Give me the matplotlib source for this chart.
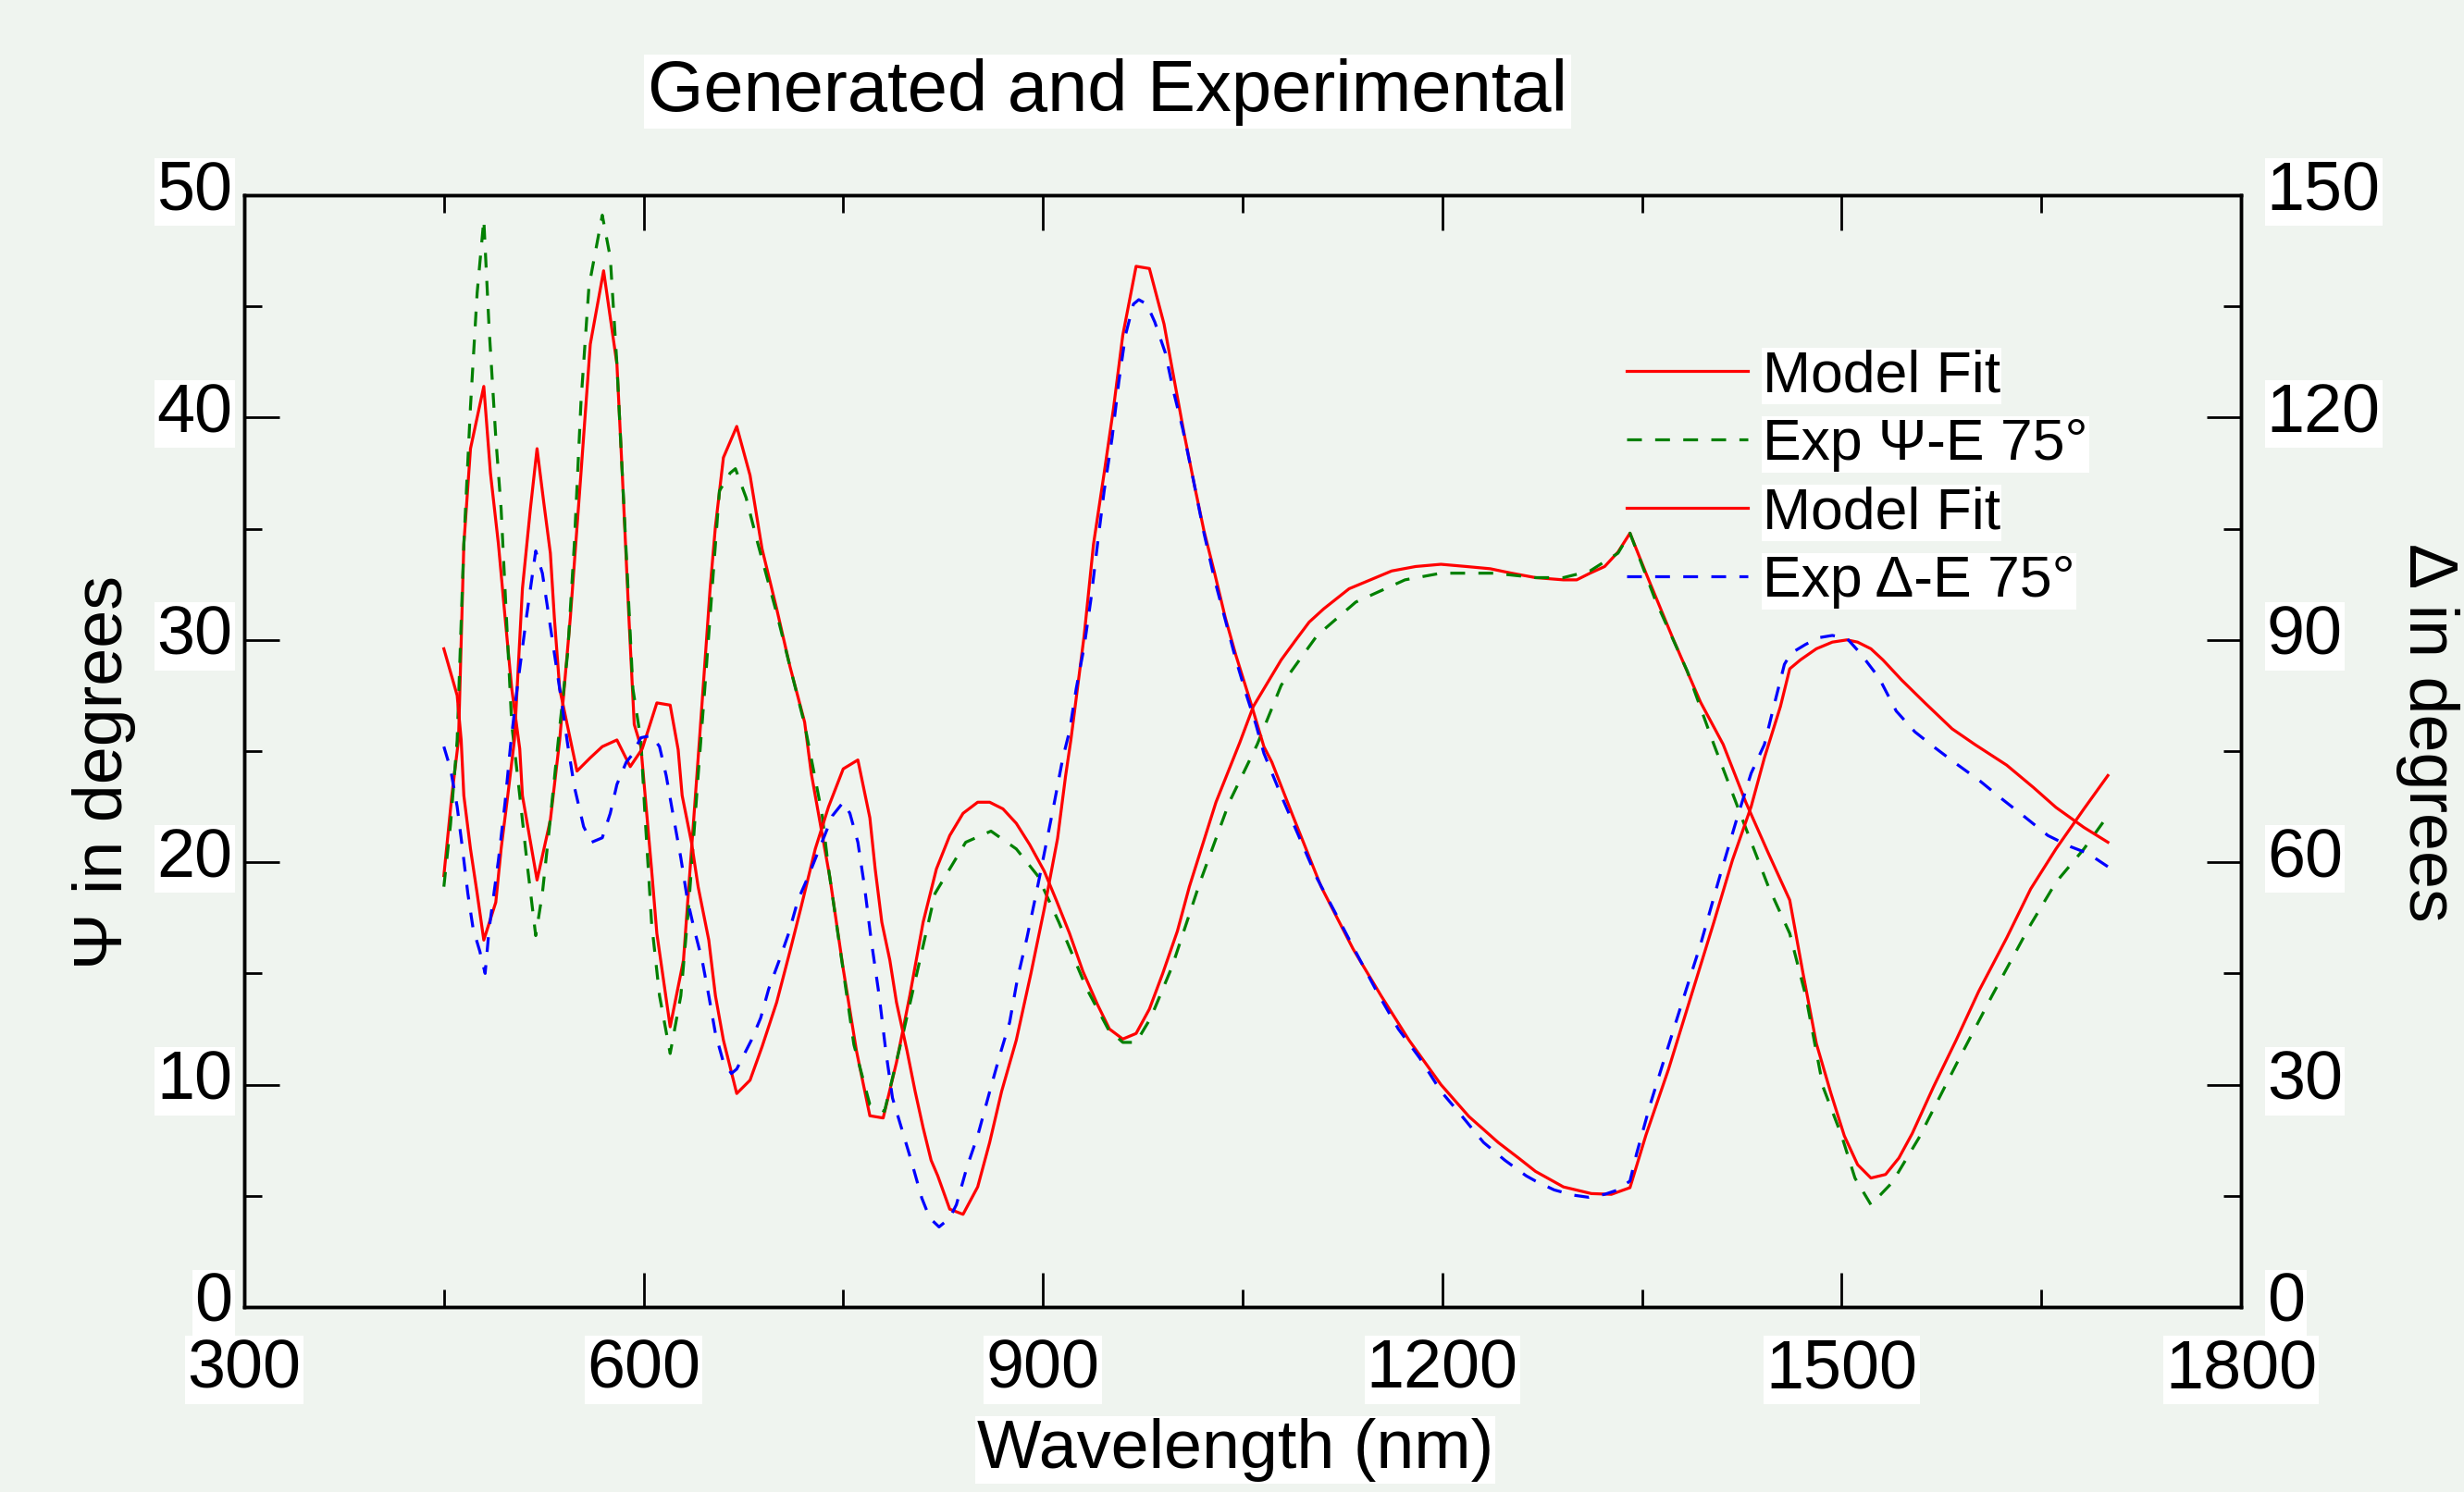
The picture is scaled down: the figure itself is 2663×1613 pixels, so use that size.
import matplotlib
matplotlib.use('Agg')
import matplotlib.pyplot as plt
from matplotlib.ticker import MultipleLocator
from matplotlib.transforms import ScaledTranslation
from matplotlib import font_manager

# Psi (left axis, degrees)
wl_psi_fit = [450, 456, 461, 465, 470, 480, 485, 491, 496, 501, 507, 509, 520, 530, 537, 545, 553,
              560, 570, 580, 584, 589, 593, 598, 606, 610, 620, 630, 642, 650, 654, 660, 670, 680,
              689, 700, 710, 721, 726, 740, 750, 760, 770, 780, 790, 800, 810, 820, 830, 840, 851,
              860, 870, 880, 890, 901, 910, 920, 930, 941, 950, 960, 970, 980, 990, 1001, 1010,
              1020, 1030, 1040, 1048, 1058, 1069, 1079, 1090, 1100, 1111, 1130, 1146, 1162, 1180,
              1199, 1218, 1236, 1252, 1270, 1291, 1301, 1311, 1322, 1332, 1341, 1353, 1373, 1394,
              1411, 1428, 1445, 1461, 1471, 1481, 1492, 1502, 1512, 1522, 1533, 1543, 1553, 1569,
              1586, 1603, 1624, 1642, 1661, 1682, 1700]
psi_fit = [19.4, 23.0, 25.5, 34.3, 38.6, 41.4, 37.5, 34.3, 31.0, 27.8, 25.1, 23.0, 19.2, 21.9, 25.5,
           31.0, 37.5, 43.3, 46.6, 42.4, 37.5, 31.0, 26.2, 25.2, 19.7, 16.8, 12.6, 15.6, 25.5, 32.3,
           35.1, 38.2, 39.6, 37.4, 34.1, 31.4, 28.8, 26.3, 24.0, 19.3, 15.2, 11.5, 8.6, 8.5, 11.0,
           14.0, 17.3, 19.7, 21.2, 22.2, 22.7, 22.7, 22.4, 21.75, 20.8, 19.6, 18.3, 16.8, 15.1,
           13.6, 12.5, 12.05, 12.3, 13.4, 15.0, 16.9, 18.9, 20.8, 22.7, 24.2, 25.4, 27.0, 28.1,
           29.1, 30.0, 30.8, 31.4, 32.3, 32.7, 33.1, 33.3, 33.4, 33.3, 33.2, 33.0, 32.8, 32.7, 32.7,
           33.0, 33.3, 33.95, 34.8, 33.0, 30.1, 27.2, 25.3, 22.7, 20.4, 18.3, 15.0, 11.85, 9.6,
           7.7, 6.4, 5.8, 5.96, 6.7, 7.8, 9.9, 12.0, 14.2, 16.6, 18.8, 20.6, 22.4, 23.9]

wl_psi_exp = [450, 455, 460, 465, 470, 475, 480, 484, 489, 493, 497, 501, 507, 513, 519, 524, 529,
              536, 543, 548, 553, 559, 564, 569, 575, 580, 584, 588, 592, 598, 601, 606, 612, 620,
              628, 634, 641, 646, 652, 657, 665, 669, 677, 686, 700, 710, 721, 734, 739, 758, 770,
              781, 795, 819, 842, 861, 880, 896, 912, 933, 949, 960, 970, 981, 997, 1018, 1040,
              1061, 1079, 1106, 1135, 1172, 1199, 1239, 1270, 1291, 1311, 1332, 1341, 1360, 1384,
              1404, 1425, 1445, 1461, 1473, 1486, 1500, 1510, 1522, 1538, 1558, 1586, 1613, 1641,
              1661, 1682, 1700]
psi_exp = [18.9, 21.7, 25.5, 34.3, 40.5, 45.6, 48.9, 44.0, 39.1, 35.9, 31.0, 26.2, 23.0, 19.7, 16.7,
           18.6, 21.4, 25.5, 29.4, 34.3, 40.7, 45.9, 47.5, 49.1, 47.2, 42.4, 37.5, 32.7, 27.8, 25.5,
           22.2, 17.3, 14.0, 11.4, 14.0, 18.1, 23.9, 27.8, 32.7, 36.7, 37.5, 37.7, 36.4, 34.3, 31.2,
           28.8, 26.2, 22.2, 19.7, 11.8, 9.1, 8.8, 12.3, 18.6, 20.9, 21.4, 20.6, 19.4, 17.3, 14.3,
           12.5, 11.9, 11.9, 13.0, 15.3, 19.1, 22.7, 25.3, 27.96, 30.2, 31.7, 32.7, 33.0, 33.0, 32.8,
           32.8, 33.1, 33.9, 34.8, 31.8, 28.6, 25.3, 22.0, 18.9, 16.8, 14.0, 9.9, 7.7, 5.8, 4.6, 5.6,
           7.6, 10.9, 14.0, 17.1, 19.1, 20.6, 22.1]

# Delta (right axis, degrees)
wl_del_fit = [450, 460, 463, 465, 470, 475, 480, 489, 493, 498, 503, 509, 515, 520, 525, 530, 533,
              537, 550, 560, 569, 580, 590, 599, 610, 620, 626, 629, 636, 641, 649, 654, 660, 670,
              680, 689, 700, 710, 718, 729, 739, 750, 761, 770, 774, 779, 785, 790, 798, 804, 810,
              816, 821, 830, 840, 851, 860, 869, 880, 891, 901, 911, 917, 921, 924, 931, 938, 946,
              953, 960, 970, 980, 991, 998, 1006, 1014, 1021, 1029, 1037, 1045, 1056, 1066, 1072,
              1087, 1109, 1133, 1154, 1175, 1199, 1220, 1242, 1258, 1270, 1291, 1312, 1327, 1341,
              1353, 1370, 1387, 1404, 1418, 1432, 1442, 1454, 1461, 1469, 1481, 1493, 1504, 1512,
              1522, 1531, 1545, 1562, 1583, 1600, 1624, 1644, 1661, 1682, 1700]
del_fit = [88.8, 82.5, 76.5, 69.0, 61.8, 55.8, 49.5, 54.6, 61.8, 69.0, 76.5, 96.9, 107.7, 115.8,
           108.6, 101.7, 93.0, 83.4, 72.3, 74.1, 75.6, 76.5, 72.9, 75.3, 81.5, 81.2, 75.2, 69.0,
           62.7, 56.7, 49.5, 42.0, 36.0, 28.8, 30.6, 35.1, 41.1, 48.0, 53.7, 61.8, 67.5, 72.6,
           73.8, 66.0, 59.1, 51.9, 46.8, 41.1, 34.5, 29.1, 24.2, 19.8, 17.7, 13.2, 12.5, 16.2,
           22.2, 29.1, 36.0, 45.0, 53.7, 63.2, 71.6, 76.5, 80.7, 90.6, 102.9, 112.5, 121.2, 131.1,
           140.4, 140.1, 132.6, 125.7, 117.9, 110.7, 104.7, 99.0, 93.0, 87.9, 81.6, 75.6, 73.5,
           66.6, 56.7, 48.3, 42.0, 36.0, 30.0, 25.7, 22.2, 20.0, 18.3, 16.2, 15.3, 15.2, 16.1,
           23.2, 32.1, 42.0, 51.9, 60.3, 67.5, 74.1, 81.0, 86.1, 87.3, 88.8, 89.7, 90.0, 89.7,
           88.8, 87.3, 84.6, 81.6, 78.0, 75.9, 73.1, 70.1, 67.4, 64.7, 62.7]

wl_del_exp = [450, 455, 460, 464, 468, 472, 477, 481, 484, 491, 496, 500, 505, 512, 516, 519, 524,
              529, 535, 539, 543, 548, 555, 561, 569, 575, 580, 587, 591, 598, 606, 612, 617, 622,
              628, 633, 638, 644, 649, 654, 660, 666, 670, 681, 688, 694, 702, 709, 716, 724, 732,
              742, 750, 755, 761, 766, 771, 777, 782, 787, 793, 801, 809, 815, 822, 830, 835, 843,
              851, 861, 868, 875, 881, 888, 895, 901, 908, 915, 920, 925, 931, 936, 941, 946, 952,
              957, 962, 968, 972, 978, 984, 992, 998, 1005, 1013, 1021, 1029, 1037, 1045, 1053,
              1060, 1066, 1079, 1093, 1106, 1119, 1135, 1151, 1167, 1183, 1199, 1215, 1231, 1247,
              1263, 1270, 1284, 1298, 1310, 1322, 1332, 1341, 1346, 1356, 1366, 1380, 1394, 1408,
              1421, 1432, 1442, 1449, 1457, 1462, 1473, 1483, 1493, 1504, 1514, 1528, 1541, 1555,
              1569, 1586, 1603, 1620, 1637, 1655, 1672, 1685, 1700]
del_exp = [75.6, 72.6, 67.5, 61.8, 55.8, 51.0, 48.0, 45.0, 51.0, 60.3, 68.1, 75.6, 83.4, 93.0, 98.1,
           102.0, 99.0, 93.0, 85.8, 81.0, 75.9, 70.2, 64.8, 62.7, 63.3, 66.6, 70.5, 73.5, 74.4,
           76.8, 77.1, 75.6, 71.7, 66.6, 60.6, 54.9, 51.0, 46.8, 42.0, 36.9, 33.0, 31.5, 32.1,
           36.0, 39.0, 42.9, 46.8, 50.4, 54.9, 58.2, 61.8, 66.3, 68.1, 66.6, 62.7, 56.7, 49.5,
           42.0, 34.5, 28.2, 24.6, 19.8, 14.7, 12.0, 10.8, 12.0, 13.8, 18.9, 23.1, 29.7, 34.2,
           38.4, 44.4, 49.8, 55.8, 61.2, 67.5, 74.1, 77.7, 83.4, 89.1, 95.4, 102.9, 110.1, 117.3,
           124.8, 131.1, 135.3, 135.9, 135.3, 132.9, 128.7, 123.6, 118.5, 111.6, 104.4, 98.1,
           92.7, 87.3, 82.5, 78.6, 74.7, 69.0, 63.2, 57.8, 53.4, 47.9, 42.5, 37.5, 33.6, 29.1,
           25.7, 22.2, 19.8, 17.7, 17.0, 15.8, 15.1, 14.8, 15.2, 15.8, 17.0, 20.7, 27.2, 33.0,
           41.0, 48.9, 57.8, 65.7, 72.0, 75.9, 81.0, 86.7, 88.2, 89.4, 90.3, 90.6, 90.2, 88.2,
           84.9, 80.4, 77.6, 75.6, 73.3, 71.1, 68.6, 66.2, 63.6, 62.1, 61.2, 59.4]

legend_labels = ['Model Fit', 'Exp \u03a8-E 75\u00b0', 'Model Fit', 'Exp \u0394-E 75\u00b0']

bg = '#eff4ef'
plt.rcParams['font.family'] = ['Liberation Sans', 'DejaVu Sans']

names = {f.name for f in font_manager.fontManager.ttflist}
if 'Liberation Sans Narrow' in names:
    title_family, title_size = ['Liberation Sans Narrow', 'DejaVu Sans'], 66
else:
    title_family, title_size = ['Liberation Sans', 'DejaVu Sans'], 56

fig = plt.figure(figsize=(26.63, 16.13), dpi=100, facecolor=bg)
ax1 = fig.add_axes([0.0991, 0.124, 0.8104, 0.7452])
ax1.set_facecolor(bg)
ax2 = ax1.twinx()

lw = 2.3
dash = (5, 4.5)
l1, = ax1.plot(wl_psi_fit, psi_fit, color='#ff0000', lw=lw)
l2, = ax1.plot(wl_psi_exp, psi_exp, color='#008000', lw=lw, ls=(0, dash))
l3, = ax2.plot(wl_del_fit, del_fit, color='#ff0000', lw=lw)
l4, = ax2.plot(wl_del_exp, del_exp, color='#0000ff', lw=lw, ls=(0, dash))

ax1.set_xlim(300, 1800)
ax1.set_ylim(0, 50)
ax2.set_ylim(0, 150)
ax1.xaxis.set_major_locator(MultipleLocator(300))
ax1.xaxis.set_minor_locator(MultipleLocator(150))
ax1.yaxis.set_major_locator(MultipleLocator(10))
ax1.yaxis.set_minor_locator(MultipleLocator(5))
ax2.yaxis.set_major_locator(MultipleLocator(30))
ax2.yaxis.set_minor_locator(MultipleLocator(15))

ax1.tick_params(axis='x', which='both', direction='in', top=True, bottom=True, width=2.0,
                labelsize=53, pad=24)
ax1.tick_params(axis='y', which='both', direction='in', left=True, right=False, width=2.0,
                labelsize=53, pad=9)
ax2.tick_params(axis='y', which='both', direction='in', right=True, left=False, width=2.0,
                labelsize=53, pad=20)
for a in (ax1, ax2):
    a.tick_params(which='major', length=27)
    a.tick_params(which='minor', length=13.5)
    for sp in a.spines.values():
        sp.set_linewidth(2.5)

white = dict(facecolor='white', edgecolor='none', pad=1.5)
lift = ScaledTranslation(0, 8 / 72, fig.dpi_scale_trans)
for lab in ax1.get_xticklabels():
    lab.set_bbox(white)
for lab in ax1.get_yticklabels() + ax2.get_yticklabels():
    lab.set_bbox(white)
    lab.set_transform(lab.get_transform() + lift)

ax1.set_xlabel('Wavelength (nm)', fontsize=53, bbox=white)
ax1.xaxis.set_label_coords(0.4963, -0.1)
ax1.set_ylabel('\u03a8 in degrees', fontsize=53)
ax1.yaxis.set_label_coords(-0.054, 0.481)
ax2.set_ylabel('\u0394 in degrees', fontsize=53, rotation=-90, va='bottom')
ax2.yaxis.set_label_coords(1.0774, 0.5166)

fig.text(0.4495, 0.9386, 'Generated and Experimental', ha='center', va='center',
         fontsize=title_size, family=title_family, bbox=dict(facecolor='white', edgecolor='none', pad=3))

leg = ax2.legend([l1, l2, l3, l4], legend_labels, loc='upper left',
                 bbox_to_anchor=(1758 / 2663, 1 - 377 / 1613), bbox_transform=fig.transFigure,
                 frameon=False, fontsize=45, handlelength=2.1, handletextpad=0.25,
                 labelspacing=0.24, borderpad=0, borderaxespad=0)
for t in leg.get_texts():
    t.set_bbox(dict(facecolor='white', edgecolor='none', pad=1))

fig.savefig('out.png', dpi=100, facecolor=bg)
